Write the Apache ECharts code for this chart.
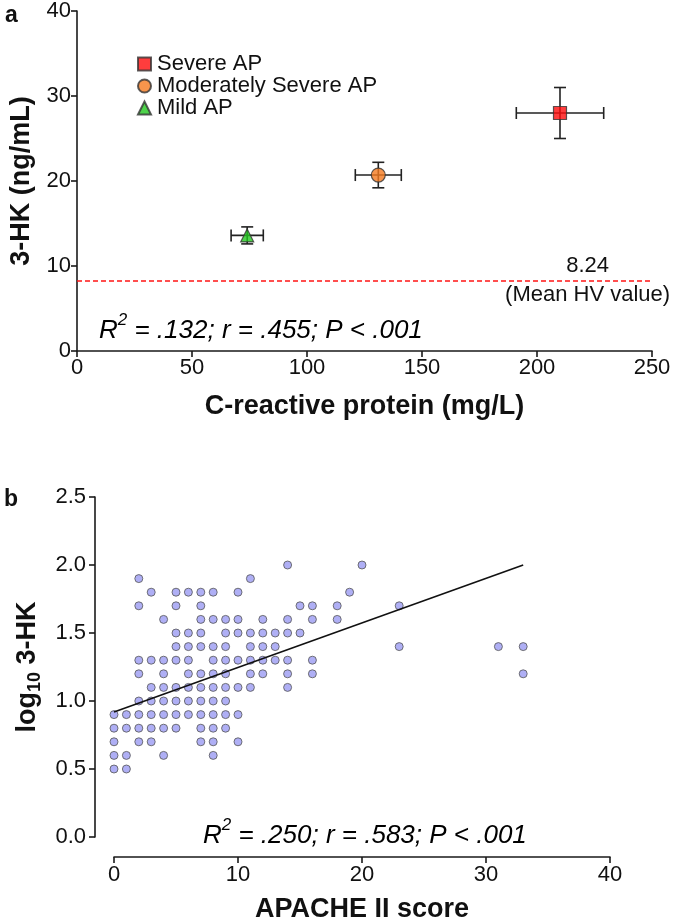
<!DOCTYPE html>
<html><head><meta charset="utf-8">
<script src="https://cdn.jsdelivr.net/npm/echarts/dist/echarts.min.js"></script>
<style>html,body{margin:0;padding:0;background:#fff}#c{width:675px;height:924px}</style>
</head><body><div id="c"></div>
<script>
// ---------- Panel a data ----------
const groupNames = ['Severe AP', 'Moderately Severe AP', 'Mild AP'];
const crpMean = [210, 131, 74];
const crpLow  = [191, 121, 67];
const crpHigh = [229, 141, 81];
const hkMean  = [28.0, 20.7, 13.6];
const hkLow   = [25.0, 19.2, 12.6];
const hkHigh  = [31.0, 22.2, 14.6];
const hvMean  = 8.24;
const aXTicks = [0, 50, 100, 150, 200, 250];
const aYTicks = [0, 10, 20, 30, 40];

// ---------- Panel b data ----------
const log10Levels = [2.0, 1.9, 1.8, 1.7, 1.6, 1.5, 1.4, 1.3, 1.2, 1.1, 1.0, 0.9, 0.8, 0.7, 0.6, 0.5];
const apacheAtLevel = [
  [14, 20],
  [2, 11],
  [3, 5, 6, 7, 8, 10, 19],
  [2, 5, 7, 15, 16, 18, 23],
  [4, 7, 8, 9, 10, 12, 14, 16, 18],
  [5, 6, 7, 9, 10, 11, 12, 13, 14, 15],
  [5, 6, 7, 8, 9, 11, 12, 13, 23, 31, 33],
  [2, 3, 4, 5, 6, 8, 9, 10, 11, 12, 13, 14, 16],
  [2, 4, 6, 7, 8, 9, 11, 12, 14, 16, 33],
  [3, 4, 5, 6, 7, 8, 9, 10, 11, 14],
  [2, 3, 4, 5, 6, 7, 8, 9],
  [0, 1, 2, 3, 4, 5, 6, 7, 8, 9, 10],
  [0, 1, 2, 3, 4, 5, 7, 8, 9],
  [0, 2, 3, 7, 8, 10],
  [0, 1, 4, 8],
  [0, 1]
];
const regX = [0, 33];
const regY = [0.92, 2.0];
const bXTicks = [0, 10, 20, 30, 40];
const bYTicks = [0.0, 0.5, 1.0, 1.5, 2.0, 2.5];

// ---------- build ----------
const FONT = '"Liberation Sans", Arial, sans-serif';
const AX = '#1a1a1a';
const chart = echarts.init(document.getElementById('c'), null, {renderer: 'canvas'});

const scatterB = [];
log10Levels.forEach((lv, i) => apacheAtLevel[i].forEach(x => scatterB.push([x, lv])));
const errData = groupNames.map((n, i) => [crpMean[i], hkMean[i], crpLow[i], crpHigh[i], hkLow[i], hkHigh[i]]);

const symbols = ['rect', 'circle', 'triangle'];
const colors = ['#ff0d0d', '#f57a1f', '#22c81e'];
const sizes = [13, 14, 13];

function axisCommon(fmt, margin) {
  return {
    axisLine: {show: true, onZero: false, lineStyle: {color: AX, width: 1.6}},
    axisTick: {show: true, inside: false, length: 6, lineStyle: {color: AX, width: 1.6}},
    axisLabel: {color: '#111', fontSize: 22, fontFamily: FONT, margin: margin || 6, formatter: fmt},
    splitLine: {show: false},
    nameLocation: 'middle',
    nameTextStyle: {color: '#111', fontSize: 27, fontWeight: 'bold', fontFamily: FONT}
  };
}

const option = {
  animation: false,
  backgroundColor: '#fff',
  grid: [
    {left: 76, top: 10, width: 576, height: 341},
    {left: 114, top: 497, width: 496, height: 341}
  ],
  xAxis: [
    Object.assign(axisCommon(), {gridIndex: 0, type: 'value', min: aXTicks[0], max: aXTicks[aXTicks.length - 1], interval: aXTicks[1] - aXTicks[0],
      name: 'C-reactive protein (mg/L)', nameGap: 42}),
    Object.assign(axisCommon(null, 7), {gridIndex: 1, type: 'value', min: bXTicks[0], max: bXTicks[bXTicks.length - 1], interval: bXTicks[1] - bXTicks[0],
      offset: 20, name: 'APACHE II score', nameGap: 39})
  ],
  yAxis: [
    Object.assign(axisCommon(), {gridIndex: 0, type: 'value', min: aYTicks[0], max: aYTicks[aYTicks.length - 1], interval: aYTicks[1] - aYTicks[0],
      name: '3-HK (ng/mL)', nameGap: 42}),
    Object.assign(axisCommon(v => v.toFixed(1), 9), {gridIndex: 1, type: 'value', min: bYTicks[0], max: bYTicks[bYTicks.length - 1], interval: bYTicks[1] - bYTicks[0],
      offset: 19, name: '{m|log}{s|10}{m| 3-HK}', nameGap: 46,
      nameTextStyle: {color: '#111', fontSize: 27, fontWeight: 'bold', fontFamily: FONT,
        rich: {
          m: {fontSize: 27, fontWeight: 'bold', fontFamily: FONT, color: '#111', lineHeight: 34, verticalAlign: 'middle'},
          s: {fontSize: 18, fontWeight: 'bold', fontFamily: FONT, color: '#111', lineHeight: 34, verticalAlign: 'bottom'}
        }}})
  ],
  legend: {
    orient: 'vertical', left: 132, top: 48, itemGap: 0, itemWidth: 13, itemHeight: 13,
    data: groupNames,
    textStyle: {fontSize: 22, lineHeight: 21, fontFamily: FONT, color: '#111', padding: [0, 0, 0, 1]}
  },
  series: [
    {
      type: 'custom', xAxisIndex: 0, yAxisIndex: 0, z: 2, data: errData,
      renderItem: function (params, api) {
        const x = api.value(0), y = api.value(1);
        const l = api.coord([api.value(2), y]), h = api.coord([api.value(3), y]);
        const b = api.coord([x, api.value(4)]), t = api.coord([x, api.value(5)]);
        const cap = 6;
        const st = {stroke: '#222', lineWidth: 1.6};
        return {type: 'group', children: [
          {type: 'line', shape: {x1: l[0], y1: l[1], x2: h[0], y2: h[1]}, style: st},
          {type: 'line', shape: {x1: l[0], y1: l[1] - cap, x2: l[0], y2: l[1] + cap}, style: st},
          {type: 'line', shape: {x1: h[0], y1: h[1] - cap, x2: h[0], y2: h[1] + cap}, style: st},
          {type: 'line', shape: {x1: b[0], y1: b[1], x2: t[0], y2: t[1]}, style: st},
          {type: 'line', shape: {x1: b[0] - cap, y1: b[1], x2: b[0] + cap, y2: b[1]}, style: st},
          {type: 'line', shape: {x1: t[0] - cap, y1: t[1], x2: t[0] + cap, y2: t[1]}, style: st}
        ]};
      }
    },
    ...groupNames.map((n, i) => ({
      type: 'scatter', name: n, xAxisIndex: 0, yAxisIndex: 0, z: 4,
      symbol: symbols[i], symbolSize: sizes[i],
      itemStyle: {color: colors[i], borderColor: '#333', borderWidth: 1.2},
      data: [[crpMean[i], hkMean[i]]]
    })),
    {
      type: 'line', xAxisIndex: 0, yAxisIndex: 0, data: [], silent: true,
      markLine: {
        silent: true, symbol: 'none', label: {show: false},
        lineStyle: {color: '#ff1414', type: [5, 3], width: 1.5},
        data: [{yAxis: hvMean}]
      }
    },
    {
      type: 'scatter', xAxisIndex: 1, yAxisIndex: 1, z: 3,
      symbol: 'circle', symbolSize: 8,
      itemStyle: {color: '#9b9bf2', borderColor: '#555', borderWidth: 1},
      data: scatterB
    },
    {
      type: 'line', xAxisIndex: 1, yAxisIndex: 1, z: 4, showSymbol: false, silent: true,
      lineStyle: {color: '#111', width: 1.6},
      data: regX.map((x, i) => [x, regY[i]])
    }
  ]
};
chart.setOption(option);

// annotations positioned from data coordinates
const p824 = chart.convertToPixel({gridIndex: 0}, [222, hvMean]);
const richR = {
  i: {fontSize: 26, fontStyle: 'italic', fontFamily: FONT, color: '#111', lineHeight: 32, verticalAlign: 'bottom'},
  s: {fontSize: 17, fontStyle: 'italic', fontFamily: FONT, color: '#111', lineHeight: 32, verticalAlign: 'top'}
};
chart.setOption({
  graphic: [
    {type: 'text', left: 5, top: 4, style: {text: 'a', fontSize: 23, fontWeight: 'bold', fontFamily: FONT, fill: '#111'}},
    {type: 'text', left: 4, top: 488, style: {text: 'b', fontSize: 23, fontWeight: 'bold', fontFamily: FONT, fill: '#111'}},
    {type: 'text', x: p824[0], y: p824[1] - 4, style: {text: '8.24', fontSize: 22, fontFamily: FONT, fill: '#111', align: 'center', verticalAlign: 'bottom'}},
    {type: 'text', x: p824[0], y: p824[1] + 3, style: {text: '(Mean HV value)', fontSize: 22, fontFamily: FONT, fill: '#111', align: 'center', verticalAlign: 'top'}},
    {type: 'text', x: 99, y: 328, style: {text: '{i|R}{s|2}{i| = .132; r = .455; P < .001}', rich: richR, align: 'left', verticalAlign: 'middle'}},
    {type: 'text', x: 203, y: 833, style: {text: '{i|R}{s|2}{i| = .250; r = .583; P < .001}', rich: richR, align: 'left', verticalAlign: 'middle'}}
  ]
});
</script></body></html>
